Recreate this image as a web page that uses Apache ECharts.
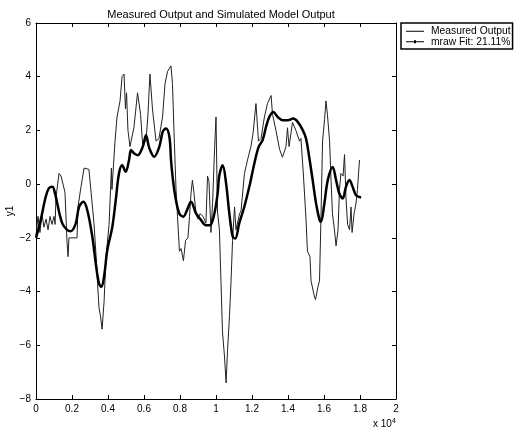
<!DOCTYPE html>
<html>
<head>
<meta charset="utf-8">
<script src="https://cdn.jsdelivr.net/npm/echarts@6/dist/echarts.min.js"></script>
<style>
  html, body { margin: 0; padding: 0; background: #fff; }
  #chart { width: 518px; height: 432px; }
</style>
</head>
<body>
<div id="chart"></div>
<script>
// 测量输出（样本序号, y1）
var measuredT = [0, 110, 220, 330, 440, 560, 670, 780, 890, 1000, 1060, 1110, 1170, 1280, 1390, 1500, 1610, 1720, 1780, 1830,
  2280, 2330, 2500, 2670, 2940, 3060, 3220, 3330, 3420, 3500, 3580, 3670, 3780, 3890, 4060, 4140, 4190, 4220, 4390, 4500,
  4670, 4780, 4890, 4970, 5030, 5110, 5220, 5280, 5440, 5640, 5720, 5810, 5920, 6110, 6220, 6330, 6470, 6670, 6830, 7030,
  7170, 7310, 7500, 7580, 7690, 7780, 7860, 7970, 8060, 8190, 8310, 8440, 8530, 8610, 8690, 8780, 8890, 9000, 9110, 9280,
  9440, 9530, 9610, 9720, 9810, 9920, 10000, 10080, 10190, 10280, 10360, 10470, 10560, 10640, 10750, 10830, 10920, 11030, 11110, 11310,
  11390, 11580, 11750, 11940, 12060, 12220, 12310, 12360, 12500, 12690, 12860, 13060, 13140, 13330, 13530, 13690, 13890, 13970, 14060, 14170,
  14250, 14440, 14640, 14720, 14860, 15000, 15080, 15220, 15280, 15390, 15470, 15530, 15670, 15750, 15830, 15920, 16030, 16110, 16190, 16310,
  16390, 16470, 16580, 16670, 16780, 16860, 16940, 17060, 17140, 17220, 17310, 17420, 17500, 17560, 17670, 17780, 17860, 17970];
var measuredY = [-1.9, -1.2, -1.8, -1.1, -1.6, -1.3, -1.7, -1.2, -1.5, -1.2, -1.5, -0.5, -0.5, 0.4, 0.3, 0.0, -0.3, -2.1, -2.7, -2.0,
  -2.0, -0.85, -0.1, 0.6, 0.55, -0.3, -1.45, -2.6, -3.7, -4.6, -4.9, -5.4, -4.4, -2.7, -1.5, -0.2, 0.6, -0.2, 1.6, 2.5,
  3.1, 4.0, 4.1, 2.8, 3.4, 2.0, 1.4, 1.4, 2.1, 3.4, 3.4, 2.6, 1.5, 1.6, 2.6, 4.1, 2.8, 1.6, 1.7, 2.5,
  3.75, 4.2, 4.4, 3.75, 1.5, -0.2, -1.2, -2.5, -2.4, -2.85, -2.1, -2.0, -1.2, -0.35, 0.15, -0.35, -1.1, -1.3, -1.1, -1.2,
  -1.45, 0.3, 0.1, -1.8, -0.7, 1.3, 2.5, -1.0, -1.7, -3.7, -5.5, -6.4, -7.4, -6.2, -4.9, -3.7, -2.1, -0.85, -1.7, -1.1,
  -1.0, 0.4, 0.9, 1.4, 1.9, 3.0, 3.0, 1.6, 1.7, 2.5, 3.0, 3.3, 2.6, 2.0, 1.3, 1.0, 1.4, 2.1, 1.4, 1.4,
  2.3, 2.0, 1.6, 1.7, 0.3, -1.3, -2.5, -2.7, -3.6, -3.6, -4.2, -4.3, -3.8, -3.6, -1.3, 1.6, 2.4, 3.1, 2.6, 1.6,
  0.15, -1.1, -1.7, -2.3, -1.7, -0.2, 0.4, 0.3, 1.1, -0.5, -1.5, -1.7, -0.85, -1.8, -1.1, -0.7, -0.2, 0.9];

// 模型仿真输出 mraw
var fitT = [0, 260, 540, 720, 910, 1060, 1180, 1460, 1740, 1930, 2210, 2390, 2630, 2850, 3130, 3320, 3500, 3630, 3780, 3960,
  4240, 4430, 4610, 4790, 4980, 5170, 5280, 5440, 5650, 5930, 6110, 6290, 6570, 6850, 7040, 7220, 7410, 7500, 7590, 7740,
  7960, 8180, 8390, 8610, 8890, 9170, 9440, 9670, 9910, 10090, 10180, 10370, 10560, 10740, 10930, 11070, 11290, 11570, 11850, 12130,
  12370, 12590, 12780, 12960, 13180, 13430, 13710, 14000, 14290, 14540, 14820, 15000, 15180, 15370, 15560, 15740, 15830, 16020, 16210, 16480,
  16670, 16850, 17040, 17220, 17410, 17590, 17780, 18060];
var fitY = [-2.0, -1.34, -0.47, -0.15, -0.1, -0.35, -0.72, -1.46, -1.71, -1.75, -1.46, -0.85, -0.66, -0.97, -1.96, -2.95, -3.7, -3.82, -3.45, -2.46,
  -1.59, -0.6, 0.4, 0.7, 0.46, 0.9, 1.27, 1.15, 1.08, 1.39, 1.82, 1.35, 1.02, 1.39, 1.95, 2.07, 1.76, 0.9, 0.27, -0.47,
  -1.09, -1.21, -0.97, -0.66, -1.09, -1.34, -1.53, -1.53, -1.09, -0.35, 0.3, 0.7, 0.03, -1.09, -1.96, -2.02, -1.46, -0.85, -0.1, 0.77,
  1.39, 1.64, 2.13, 2.5, 2.69, 2.5, 2.38, 2.38, 2.44, 2.32, 2.01, 1.7, 1.0, 0.15, -0.72, -1.3, -1.4, -0.72, 0.15, 0.64,
  0.15, -0.35, -0.53, -0.1, 0.15, -0.1, -0.41, -0.5];

var seriesNames = ['Measured Output', 'mraw Fit: 21.11%'];
var titleText = 'Measured Output and Simulated Model Output';

function pairs(xs, ys) {
  var out = [];
  for (var i = 0; i < xs.length; i++) {
    out.push([xs[i], ys[i]]);
  }
  return out;
}

var font = 'Liberation Sans, Arial, sans-serif';
var chart = echarts.init(document.getElementById('chart'));

function axisBase() {
  return {
    axisLine: { show: true, onZero: false, lineStyle: { color: '#000', width: 1 } },
    axisTick: { show: true, inside: true, length: 4, lineStyle: { color: '#000' } },
    splitLine: { show: false },
  };
}

// 图例图标：细线 / 细线加小点
var iconLine = 'path://M0,1h18v1h-18z';
var iconLineDot = 'path://M0,1h18v1h-18z M8,0h2v3h-2z';

var option = {
  animation: false,
  backgroundColor: '#fff',
  title: {
    text: titleText,
    left: 216,
    top: 4,
    textAlign: 'center',
    textStyle: { fontFamily: font, fontSize: 11, fontWeight: 'normal', color: '#000' },
  },
  legend: {
    orient: 'vertical',
    left: 401,
    top: 23,
    padding: [3, 2, 2, 5],
    itemGap: 0,
    itemWidth: 18,
    itemHeight: 3,
    borderColor: '#000',
    borderWidth: 1.5,
    textStyle: { fontFamily: font, fontSize: 10.3, color: '#000', lineHeight: 10.5, padding: [0, 0, 0, 2] },
    data: [
      { name: seriesNames[0], icon: iconLine, itemStyle: { color: '#000' } },
      { name: seriesNames[1], icon: iconLineDot, itemStyle: { color: '#000' } },
    ],
  },
  grid: { left: 36, top: 23, width: 360, height: 376, outerBoundsMode: 'none' },
  xAxis: [
    Object.assign(axisBase(), {
      type: 'value',
      min: 0,
      max: 20000,
      interval: 2000,
      position: 'bottom',
      axisLabel: {
        margin: 5,
        fontFamily: font,
        fontSize: 10,
        color: '#000',
        formatter: function (v) { return String(v / 10000); },
      },
    }),
    Object.assign(axisBase(), {
      type: 'value',
      min: 0,
      max: 20000,
      interval: 2000,
      position: 'top',
      axisLabel: { show: false },
    }),
  ],
  yAxis: [
    Object.assign(axisBase(), {
      type: 'value',
      min: -8,
      max: 6,
      interval: 2,
      position: 'left',
      name: 'y1',
      nameLocation: 'middle',
      nameGap: 21,
      nameRotate: 90,
      nameMoveOverlap: false,
      nameTextStyle: { fontFamily: font, fontSize: 10, color: '#000' },
      axisLabel: {
        margin: 5,
        fontFamily: font,
        fontSize: 10,
        color: '#000',
        formatter: function (v) { return String(v).replace('-', '\u2212'); },
      },
    }),
    Object.assign(axisBase(), {
      type: 'value',
      min: -8,
      max: 6,
      interval: 2,
      position: 'right',
      axisLabel: { show: false },
    }),
  ],
  graphic: [
    {
      type: 'text',
      left: 373,
      top: 418,
      style: {
        text: 'x 10{s|4}',
        font: '10px ' + font,
        fill: '#000',
        rich: { s: { fontSize: 7, verticalAlign: 'top', padding: [0, 0, 6, 0] } },
      },
    },
  ],
  series: [
    {
      name: seriesNames[0],
      type: 'line',
      data: pairs(measuredT, measuredY),
      showSymbol: false,
      symbol: 'none',
      lineStyle: { width: 1, color: '#222' },
      itemStyle: { color: '#000' },
      z: 2,
    },
    {
      name: seriesNames[1],
      type: 'line',
      data: pairs(fitT, fitY),
      smooth: 0.35,
      showSymbol: false,
      symbol: 'circle',
      symbolSize: 3,
      lineStyle: { width: 2.5, color: '#000' },
      itemStyle: { color: '#000' },
      z: 3,
    },
  ],
};

chart.setOption(option);
</script>
</body>
</html>
